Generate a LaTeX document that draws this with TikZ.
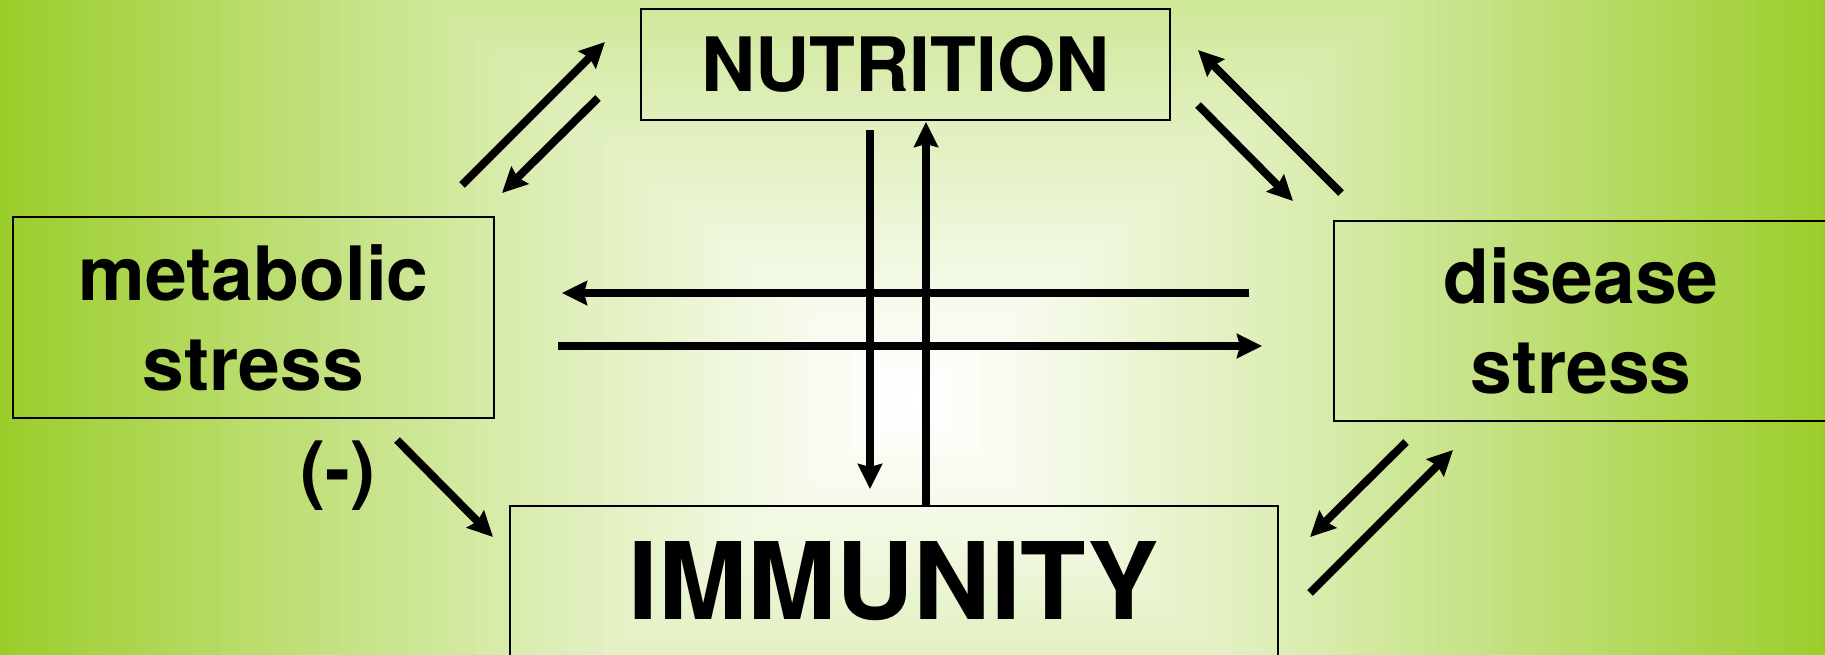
\documentclass[tikz,border=0pt]{standalone}
\usepackage{fontspec}
\setmainfont{TeX Gyre Heros}
\usetikzlibrary{arrows.meta}
\definecolor{yg}{RGB}{155,205,42}
\begin{document}
\begin{tikzpicture}[x=1pt,y=-1pt,
  box/.style={draw=black, line width=1.6pt, inner sep=0pt, align=center,
    font=\fontsize{75}{90}\selectfont\bfseries},
  lbl/.style={inner sep=0pt, font=\fontsize{75}{90}\selectfont\bfseries},
  arr/.style={line width=8pt, -{Stealth[length=25pt,width=24pt,inset=3pt]}}]
\useasboundingbox (0,0) rectangle (1825,654);
\begin{scope}
\clip (0,0) rectangle (1825,654);
\foreach \i in {100,99,...,1}{
  \pgfmathtruncatemacro\p{100*(\i/100)^1.15}
  \fill[yg!\p!white] ({915-9.15*\i},{400-7.55*\i}) rectangle ({915+9.15*\i},{400+7.55*\i});
}
% boxes
\node[box, minimum width=529pt, minimum height=111pt] (nut) at (905.5,64.5) {NUTRITION};
\node[box, minimum width=481pt, minimum height=201pt] (met) at (253.5,317.5) {metabolic\\stress};
\node[box, minimum width=494pt, minimum height=200pt] (dis) at (1581,321) {disease\\stress};
\node[box, minimum width=768pt, minimum height=151pt,
  font=\fontsize{107}{120}\selectfont\bfseries] (imm) at (894,581.5) {IMMUNITY};
\node[lbl] (neg) at (338,476) {(-)};
% arrow end points
\coordinate (mn1s) at (462,185); \coordinate (mn1e) at (605,42);
\coordinate (mn2s) at (598,98);  \coordinate (mn2e) at (502,193);
\coordinate (nd1s) at (1341,193); \coordinate (nd1e) at (1198,50);
\coordinate (nd2s) at (1198,105); \coordinate (nd2e) at (1293,201);
\coordinate (di1s) at (1406,442); \coordinate (di1e) at (1310,537);
\coordinate (di2s) at (1310,593); \coordinate (di2e) at (1453,450);
\coordinate (mi1s) at (397,440); \coordinate (mi1e) at (493,537);
\coordinate (h1s) at (1249,293); \coordinate (h1e) at (562,293);
\coordinate (h2s) at (558,346); \coordinate (h2e) at (1262,346);
\coordinate (v1s) at (870,130); \coordinate (v1e) at (870,489);
\coordinate (v2s) at (926,505); \coordinate (v2e) at (926,122);
% arrows
\draw[arr] (mn1s) -- (mn1e);
\draw[arr] (mn2s) -- (mn2e);
\draw[arr] (nd1s) -- (nd1e);
\draw[arr] (nd2s) -- (nd2e);
\draw[arr] (di1s) -- (di1e);
\draw[arr] (di2s) -- (di2e);
\draw[arr] (mi1s) -- (mi1e);
\draw[arr] (h1s) -- (h1e);
\draw[arr] (h2s) -- (h2e);
\draw[arr] (v1s) -- (v1e);
\draw[arr] (v2s) -- (v2e);
\end{scope}
\end{tikzpicture}
\end{document}
